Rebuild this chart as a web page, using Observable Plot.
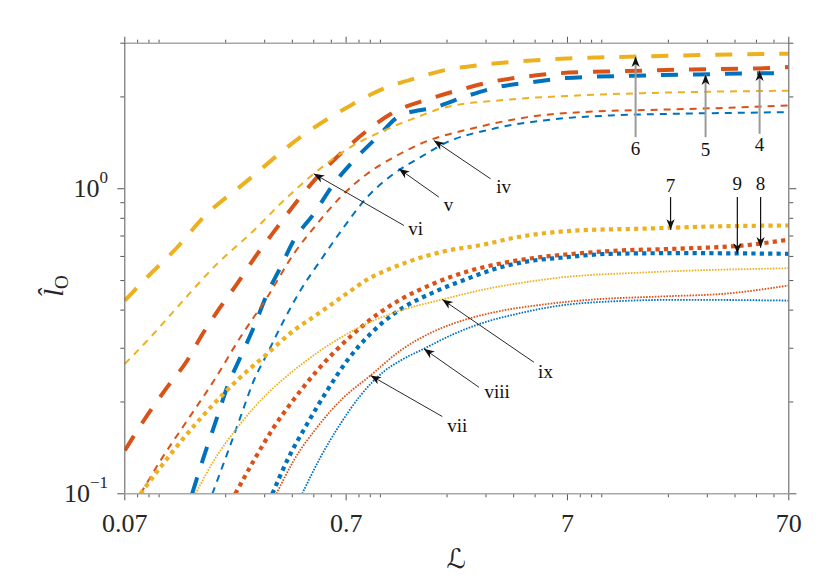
<!DOCTYPE html>
<html><head><meta charset="utf-8">
<script src="https://cdn.jsdelivr.net/npm/d3@7"></script>
<script src="https://cdn.jsdelivr.net/npm/@observablehq/plot@0.6"></script>
<style>body{margin:0;background:#fff;overflow:hidden}</style>
</head><body><div id="chart"></div>
<script>
const blue = "#0072BD", red = "#D95319", yellow = "#EDB120";

// ---- curves: thick dashed (4,5,6) ----
const c4x = [0.07, 0.0853, 0.1088, 0.134, 0.154, 0.189, 0.225, 0.278, 0.342, 0.435, 0.518, 0.660, 0.872, 1.19, 1.632, 2.30, 3.24, 4.62, 6.52, 12.5, 25.2, 50.6, 70];
const c4y = [0.1387, 0.1739, 0.2236, 0.2735, 0.3262, 0.409, 0.488, 0.612, 0.748, 0.939, 1.091, 1.302, 1.553, 1.806, 1.962, 2.112, 2.248, 2.334, 2.393, 2.429, 2.461, 2.480, 2.505];
const c5x = [0.141, 0.159, 0.183, 0.203, 0.233, 0.268, 0.308, 0.354, 0.406, 0.500, 0.616, 0.758, 0.967, 1.233, 1.775, 2.50, 3.38, 4.87, 6.86, 13.8, 27.1, 53.8, 70];
const c5y = [0.1, 0.1318, 0.1783, 0.2236, 0.2805, 0.3518, 0.4525, 0.5533, 0.6769, 0.828, 1.038, 1.238, 1.476, 1.739, 1.851, 2.022, 2.153, 2.236, 2.305, 2.347, 2.370, 2.393, 2.393];
const c6x = [0.07, 0.0884, 0.1208, 0.159, 0.246, 0.435, 0.733, 1.033, 1.467, 1.929, 2.75, 5.46, 15.4, 70];
const c6y = [0.430, 0.513, 0.643, 0.807, 1.051, 1.476, 1.876, 2.128, 2.311, 2.443, 2.537, 2.648, 2.715, 2.771];

// ---- thin dashed (iv, v, vi) ----
const civx = [0.0824, 0.1015, 0.134, 0.177, 0.233, 0.308, 0.406, 0.518, 0.660, 0.872, 1.15, 1.518, 2.75, 4.62, 9.19, 18.4, 37.0, 70];
const civy = [0.1, 0.1286, 0.1739, 0.2352, 0.3262, 0.441, 0.612, 0.768, 0.939, 1.120, 1.269, 1.404, 1.592, 1.717, 1.792, 1.816, 1.843, 1.876];
const cvx = [0.174, 0.203, 0.233, 0.268, 0.308, 0.366, 0.435, 0.536, 0.683, 0.872, 1.15, 1.518, 1.929, 3.24, 5.46, 10.96, 22.0, 43.7, 70];
const cvy = [0.1, 0.1352, 0.1783, 0.2352, 0.2877, 0.370, 0.464, 0.582, 0.748, 0.939, 1.120, 1.269, 1.404, 1.573, 1.675, 1.739, 1.762, 1.775, 1.783];
const cvix = [0.07, 0.0915, 0.1208, 0.183, 0.268, 0.366, 0.500, 0.733, 1.037, 1.467, 1.929, 3.87, 7.78, 15.4, 31.0, 70];
const cviy = [0.2668, 0.3262, 0.409, 0.5675, 0.730, 0.915, 1.120, 1.369, 1.553, 1.717, 1.843, 1.962, 2.022, 2.058, 2.080, 2.096];

// ---- thick dotted (7, 8, 9) ----
const c7x = [0.0824, 0.1015, 0.134, 0.177, 0.233, 0.308, 0.406, 0.509, 0.606, 0.720, 0.872, 1.074, 1.368, 1.929, 2.955, 3.87, 7.78, 15.4, 31.0, 70];
const c7y = [0.1, 0.1223, 0.1573, 0.1973, 0.2411, 0.2877, 0.3430, 0.384, 0.4198, 0.4584, 0.5041, 0.5418, 0.5798, 0.623, 0.657, 0.687, 0.730, 0.740, 0.752, 0.758];
const c8x = [0.221, 0.268, 0.330, 0.406, 0.500, 0.616, 0.758, 0.967, 1.233, 1.743, 2.468, 3.49, 4.935, 7.78, 10.96, 22.0, 43.7, 70];
const c8y = [0.1, 0.1286, 0.1653, 0.2038, 0.2461, 0.2906, 0.3354, 0.3871, 0.4335, 0.4891, 0.5356, 0.5689, 0.5931, 0.6135, 0.6252, 0.636, 0.652, 0.681];
const c9x = [0.325, 0.379, 0.467, 0.575, 0.708, 0.902, 1.15, 1.276, 1.743, 2.468, 3.49, 4.935, 6.52, 10.96, 22.0, 70];
const c9y = [0.1, 0.1286, 0.1696, 0.2182, 0.2735, 0.3346, 0.389, 0.409, 0.458, 0.507, 0.553, 0.582, 0.594, 0.612, 0.615, 0.612];

// ---- thin dotted (vii, viii, ix) ----
const cviix = [0.339, 0.406, 0.518, 0.660, 0.902, 1.233, 1.738, 2.476, 3.49, 5.46, 9.19, 18.4, 37.0, 70];
const cviiy = [0.1, 0.1286, 0.1653, 0.2022, 0.2443, 0.2950, 0.3404, 0.3742, 0.3975, 0.4175, 0.4335, 0.4434, 0.4536, 0.482];
const cviiix = [0.443, 0.536, 0.660, 0.813, 1.037, 1.233, 1.571, 2.074, 2.933, 4.152, 6.52, 10.96, 22.0, 70];
const cviiiy = [0.1, 0.1318, 0.1696, 0.2101, 0.2518, 0.2735, 0.2988, 0.3304, 0.3643, 0.389, 0.4144, 0.4271, 0.4325, 0.430];
const cixx = [0.146, 0.177, 0.233, 0.308, 0.406, 0.536, 0.708, 0.934, 1.233, 1.903, 2.933, 4.935, 6.52, 15.4, 70];
const cixy = [0.1, 0.1286, 0.1696, 0.2128, 0.2536, 0.2950, 0.3346, 0.370, 0.399, 0.4335, 0.4675, 0.4985, 0.5118, 0.5314, 0.549];

// ---- annotations ----
const numLabels = ["6", "5", "4", "7", "9", "8"];
const numX      = [14.22, 29.45, 51.66, 20.46, 40.98, 52.2];
const numTailY  = [1.476, 1.476, 1.514, 0.939, 0.939, 0.939];
const numTipY   = [2.715, 2.370, 2.443, 0.734, 0.612, 0.641];
const numLabY   = [1.352, 1.345, 1.391, 1.025, 1.040, 1.041];
const numGray   = [true, true, true, false, false, false];

const romLabels = ["iv", "v", "vi", "vii", "viii", "ix"];
const romTipX   = [1.743, 1.211, 0.500, 0.902, 1.571, 1.903];
const romTipY   = [1.440, 1.163, 1.120, 0.2443, 0.2988, 0.4335];
const romTailX  = [3.146, 1.837, 1.276, 1.903, 2.785, 4.935];
const romTailY  = [1.078, 0.939, 0.758, 0.1792, 0.2236, 0.270];
const romLabX   = [3.60, 2.031, 1.441, 2.223, 3.37, 5.57];
const romLabY   = [1.017, 0.882, 0.741, 0.1675, 0.2153, 0.2518];

// ---- axes ----
const xDomain = [0.07, 70], yDomain = [0.1, 3];
const xMajor = [0.07, 0.7, 7, 70];
const xMajorLabels = ["0.07", "0.7", "7", "70"];
const xMinor = [0.08, 0.09, 0.1, 0.2, 0.3, 0.4, 0.5, 0.6, 0.8, 0.9, 1, 2, 3, 4, 5, 6, 8, 9, 10, 20, 30, 40, 50, 60];
const yMajor = [0.1, 1];
const yMajorExp = ["\u22121", "0"];
const yMinor = [0.2, 0.3, 0.4, 0.5, 0.6, 0.7, 0.8, 0.9, 2, 3];

const W = 830, H = 581, mL = 124.3, mR = 41.7, mT = 42.7, mB = 87.7;
const serif = "'Liberation Serif', 'DejaVu Serif', serif";

const series = [
  {x: c6x, y: c6y, c: yellow, w: 4, d: "17,15"},
  {x: c4x, y: c4y, c: red, w: 4, d: "17,15"},
  {x: c5x, y: c5y, c: blue, w: 4, d: "17,15"},
  {x: cvix, y: cviy, c: yellow, w: 2, d: "7,6"},
  {x: civx, y: civy, c: red, w: 2, d: "7,6"},
  {x: cvx, y: cvy, c: blue, w: 2, d: "7,6"},
  {x: c7x, y: c7y, c: yellow, w: 4.2, d: "4.2,4.2"},
  {x: c8x, y: c8y, c: red, w: 4.2, d: "4.2,4.2"},
  {x: c9x, y: c9y, c: blue, w: 4.2, d: "4.2,4.2"},
  {x: cixx, y: cixy, c: yellow, w: 1.8, d: "1.6,1.3"},
  {x: cviix, y: cviiy, c: red, w: 1.8, d: "1.6,1.3"},
  {x: cviiix, y: cviiiy, c: blue, w: 1.8, d: "1.6,1.3"}
];

const sx = Plot.scale({x: {type: "log", domain: xDomain, range: [mL, W - mR]}});
const sy = Plot.scale({y: {type: "log", domain: yDomain, range: [H - mB, mT]}});
function angle(x1, y1, x2, y2) {
  const dx = sx.apply(x2) - sx.apply(x1), dy = sy.apply(y2) - sy.apply(y1);
  return Math.atan2(dx, -dy) * 180 / Math.PI;
}

const numRows = numLabels.map((t, i) => ({t, x: numX[i], y1: numTailY[i], y2: numTipY[i], ly: numLabY[i], gray: numGray[i],
  rot: angle(numX[i], numTailY[i], numX[i], numTipY[i])}));
const romRows = romLabels.map((t, i) => ({t, x1: romTailX[i], y1: romTailY[i], x2: romTipX[i], y2: romTipY[i], lx: romLabX[i], ly: romLabY[i],
  rot: angle(romTailX[i], romTailY[i], romTipX[i], romTipY[i])}));

const arrowHead = {
  draw(ctx, size) {
    const r = Math.sqrt(size / Math.PI);
    const L = r * 2.2, w = r * 0.85;
    ctx.moveTo(0, 0);
    ctx.lineTo(w, L);
    ctx.lineTo(0, L * 0.72);
    ctx.lineTo(-w, L);
    ctx.closePath();
  }
};

const marks = [];
for (const s of series) {
  const rows = s.x.map((x, i) => ({x, y: s.y[i]}));
  marks.push(Plot.line(rows, {x: "x", y: "y", stroke: s.c, strokeWidth: s.w, strokeDasharray: s.d,
    strokeLinecap: "butt", strokeLinejoin: "miter", curve: "monotone-x", clip: true}));
}
// numeric arrows
marks.push(Plot.link(numRows.filter(d => d.gray), {x1: "x", x2: "x", y1: "y1", y2: "y2", stroke: "#9a9a9a", strokeWidth: 2}));
marks.push(Plot.link(numRows.filter(d => !d.gray), {x1: "x", x2: "x", y1: "y1", y2: "y2", stroke: "#111", strokeWidth: 1.2}));
marks.push(Plot.dot(numRows, {x: "x", y: "y2", rotate: "rot", symbol: arrowHead, r: 4.8, fill: "#111", stroke: "none"}));
marks.push(Plot.text(numRows, {x: "x", y: "ly", text: "t", fontSize: 19, fontFamily: serif, fill: "#111"}));
// roman arrows
marks.push(Plot.link(romRows, {x1: "x1", y1: "y1", x2: "x2", y2: "y2", stroke: "#111", strokeWidth: 0.9}));
marks.push(Plot.dot(romRows, {x: "x2", y: "y2", rotate: "rot", symbol: arrowHead, r: 4.8, fill: "#111", stroke: "none"}));
marks.push(Plot.text(romRows, {x: "lx", y: "ly", text: "t", fontSize: 19, fontFamily: serif, fill: "#111"}));
// axes
const tickColor = "#555";
marks.push(Plot.axisX(xMajor, {anchor: "bottom", tickSize: 7, tickFormat: () => "", stroke: tickColor, label: null}));
marks.push(Plot.axisX(xMinor, {anchor: "bottom", tickSize: 4, tickFormat: () => "", stroke: tickColor, label: null}));
marks.push(Plot.axisX(xMajor, {anchor: "top", tickSize: 7, tickFormat: () => "", stroke: tickColor, label: null}));
marks.push(Plot.axisX(xMinor, {anchor: "top", tickSize: 4, tickFormat: () => "", stroke: tickColor, label: null}));
marks.push(Plot.axisY(yMajor, {anchor: "left", tickSize: 7, tickFormat: () => "", stroke: tickColor, label: null}));
marks.push(Plot.axisY(yMinor, {anchor: "left", tickSize: 4, tickFormat: () => "", stroke: tickColor, label: null}));
marks.push(Plot.axisY(yMajor, {anchor: "right", tickSize: 7, tickFormat: () => "", stroke: tickColor, label: null}));
marks.push(Plot.axisY(yMinor, {anchor: "right", tickSize: 4, tickFormat: () => "", stroke: tickColor, label: null}));
// x tick labels
marks.push(Plot.text(xMajor, {x: d => d, frameAnchor: "bottom", dy: 30, lineAnchor: "middle",
  text: (d, i) => xMajorLabels[i], fontSize: 26, fontFamily: serif, fill: "#262626"}));
// box
marks.push(Plot.ruleY([yDomain[0], yDomain[1]], {stroke: "#a8a8a8", strokeWidth: 1.6}));
marks.push(Plot.ruleX([xDomain[0], xDomain[1]], {stroke: "#666", strokeWidth: 1.1}));

const plot = Plot.plot({
  width: W, height: H,
  marginLeft: mL, marginRight: mR, marginTop: mT, marginBottom: mB,
  x: {type: "log", domain: xDomain, label: null},
  y: {type: "log", domain: yDomain, label: null},
  style: {background: "#fff", overflow: "visible"},
  marks
});
document.getElementById("chart").appendChild(plot);

// y tick labels with superscripts
const svg = d3.select(plot);
const ysc = plot.scale("y");
yMajor.forEach((v, i) => {
  const yy = ysc.apply(v);
  const t = svg.append("text").attr("x", 108).attr("y", yy + 8.3)
    .attr("text-anchor", "end").attr("font-family", serif).attr("font-size", 26).attr("fill", "#262626");
  t.append("tspan").text("10");
  t.append("tspan").attr("dy", -13.5).attr("font-size", 17).text(yMajorExp[i]);
});
// x label
const xsc = plot.scale("x");
svg.append("text").attr("x", (xsc.range[0] + xsc.range[1]) / 2).attr("y", 568)
  .attr("text-anchor", "middle").attr("font-family", "'DejaVu Serif', 'DejaVu Sans', serif")
  .attr("font-style", "italic").attr("font-size", 27).attr("fill", "#262626").text("\u2112");
// y label (rotated)
const yl = svg.append("text").attr("transform", "translate(63,286) rotate(-90)")
  .attr("font-family", serif).attr("fill", "#262626");
yl.append("tspan").attr("font-style", "italic").attr("font-size", 28).text("l\u0302");
yl.append("tspan").attr("font-size", 19).attr("dy", 5).text("O");
</script>
</body></html>
